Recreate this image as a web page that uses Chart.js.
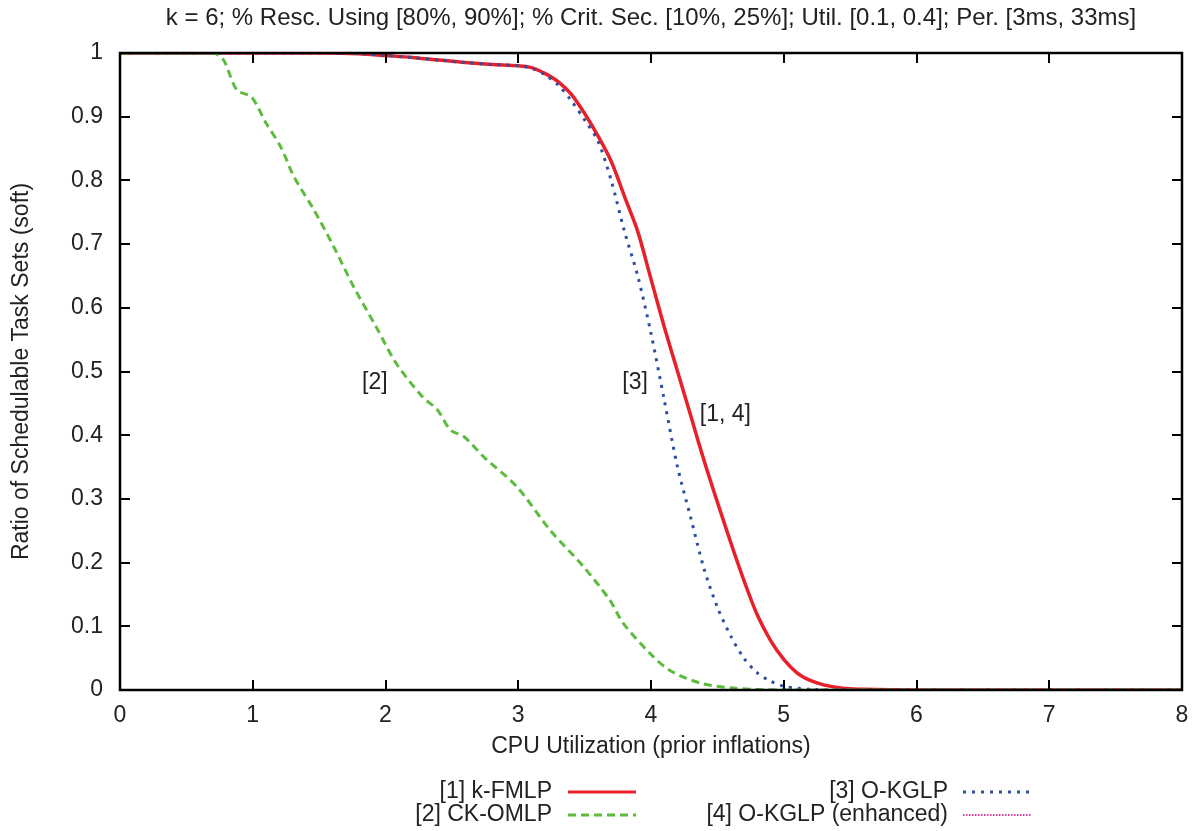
<!DOCTYPE html>
<html>
<head>
<meta charset="utf-8">
<script src="https://cdn.jsdelivr.net/npm/chart.js@4.4.1/dist/chart.umd.min.js"></script>
<style>
  html, body { margin: 0; padding: 0; background: #fff; }
  #wrap { width: 1196px; height: 831px; }
</style>
</head>
<body>
<div id="wrap"><canvas id="myChart" width="1196" height="831"></canvas></div>
<script>
// values
const fmlpX = [0, 1.5, 1.8, 2.0, 2.2, 2.4, 2.6, 2.8, 3.0, 3.1, 3.2, 3.3, 3.4, 3.5, 3.6, 3.7, 3.8, 3.9, 4.0, 4.1, 4.2, 4.3, 4.4, 4.5, 4.6, 4.7, 4.8, 4.9, 5.0, 5.1, 5.2, 5.3, 5.4, 5.5, 5.6, 6.0, 8.0];
const fmlpY = [1, 1, 0.999, 0.996, 0.993, 0.989, 0.985, 0.982, 0.98, 0.977, 0.968, 0.955, 0.935, 0.905, 0.87, 0.83, 0.775, 0.72, 0.645, 0.57, 0.5, 0.43, 0.36, 0.295, 0.232, 0.172, 0.118, 0.078, 0.048, 0.027, 0.015, 0.008, 0.004, 0.002, 0.001, 0, 0];

const omlpX = [0, 0.7, 0.78, 0.88, 0.99, 1.1, 1.21, 1.31, 1.46, 1.61, 1.76, 1.93, 2.08, 2.28, 2.39, 2.49, 2.59, 2.74, 2.99, 3.24, 3.49, 3.69, 3.79, 3.99, 4.14, 4.37, 4.62, 5.0, 8.0];
const omlpY = [1, 1, 0.989, 0.942, 0.931, 0.89, 0.853, 0.806, 0.754, 0.696, 0.633, 0.57, 0.513, 0.46, 0.44, 0.408, 0.398, 0.366, 0.319, 0.251, 0.194, 0.141, 0.105, 0.058, 0.031, 0.011, 0.003, 0, 0];

const kglpX = [0, 1.5, 1.8, 2.0, 2.2, 2.4, 2.6, 2.8, 3.0, 3.1, 3.2, 3.3, 3.4, 3.5, 3.6, 3.7, 3.8, 3.9, 4.0, 4.1, 4.2, 4.3, 4.4, 4.5, 4.6, 4.7, 4.8, 4.9, 5.0, 5.1, 5.2, 5.4, 8.0];
const kglpY = [1, 1, 0.999, 0.996, 0.993, 0.989, 0.985, 0.982, 0.98, 0.976, 0.966, 0.95, 0.925, 0.895, 0.862, 0.8, 0.72, 0.65, 0.56, 0.455, 0.35, 0.27, 0.19, 0.13, 0.085, 0.05, 0.027, 0.014, 0.006, 0.003, 0.001, 0, 0];

// [4] is drawn on top of [1]
const kglpEnhX = fmlpX;
const kglpEnhY = fmlpY;

const xTicks = [0, 1, 2, 3, 4, 5, 6, 7, 8];
const yTicks = [0, 0.1, 0.2, 0.3, 0.4, 0.5, 0.6, 0.7, 0.8, 0.9, 1];

const noteText = ['[2]', '[3]', '[1, 4]'];
const noteX = [1.92, 3.88, 4.56];
const noteY = [0.483, 0.483, 0.432];

const pts = (xs, ys) => xs.map((x, i) => ({ x: x, y: ys[i] }));

const FONT = '"Liberation Sans", Arial, Helvetica, sans-serif';
const FS = 23;
const TXT = '#222';

// frame, inward ticks, notes and legend, gnuplot style
const gnuplotBits = {
  id: 'gnuplotBits',
  afterDatasetsDraw(chart) {
    const c = chart.ctx;
    const a = chart.chartArea;
    const sx = chart.scales.x, sy = chart.scales.y;
    c.save();
    c.strokeStyle = '#000';
    c.lineWidth = 2.5;
    c.strokeRect(a.left, a.top, a.right - a.left, a.bottom - a.top);
    c.lineWidth = 2;
    c.beginPath();
    xTicks.forEach(v => {
      const px = Math.round(sx.getPixelForValue(v));
      c.moveTo(px, a.bottom); c.lineTo(px, a.bottom - 10);
      c.moveTo(px, a.top); c.lineTo(px, a.top + 10);
    });
    yTicks.forEach(v => {
      const py = Math.round(sy.getPixelForValue(v));
      c.moveTo(a.left, py); c.lineTo(a.left + 10, py);
      c.moveTo(a.right, py); c.lineTo(a.right - 10, py);
    });
    c.stroke();

    c.fillStyle = TXT;
    c.font = FS + 'px ' + FONT;
    c.textAlign = 'center';
    c.textBaseline = 'middle';
    noteText.forEach((t, i) => {
      c.fillText(t, sx.getPixelForValue(noteX[i]), sy.getPixelForValue(noteY[i]));
    });

    // legend
    const rows = [
      { label: '[1] k-FMLP', tx: 552, ty: 792, lx: 568, color: '#e8202a', dash: [], w: 3 },
      { label: '[2] CK-OMLP', tx: 552, ty: 815, lx: 568, color: '#5dbb3f', dash: [8, 5], w: 3 },
      { label: '[3] O-KGLP', tx: 948, ty: 792, lx: 963, color: '#2f4ea0', dash: [3, 6], w: 3 },
      { label: '[4] O-KGLP (enhanced)', tx: 948, ty: 815, lx: 963, color: '#d63c9a', dash: [1.5, 1.5], w: 2 }
    ];
    c.textAlign = 'right';
    rows.forEach(r => {
      c.fillStyle = TXT;
      c.fillText(r.label, r.tx, r.ty);
      c.strokeStyle = r.color;
      c.lineWidth = r.w;
      c.setLineDash(r.dash);
      c.beginPath();
      c.moveTo(r.lx, r.ty);
      c.lineTo(r.lx + 68, r.ty);
      c.stroke();
    });
    c.restore();
  }
};

const ctx = document.getElementById('myChart');

new Chart(ctx, {
  type: 'scatter',
  data: {
    datasets: [
      {
        label: '[2] CK-OMLP',
        data: pts(omlpX, omlpY),
        borderColor: '#5dbb3f',
        borderWidth: 3,
        borderDash: [8, 5]
      },
      {
        label: '[3] O-KGLP',
        data: pts(kglpX, kglpY),
        borderColor: '#2f4ea0',
        borderWidth: 3,
        borderDash: [3, 6]
      },
      {
        label: '[1] k-FMLP',
        data: pts(fmlpX, fmlpY),
        borderColor: '#e8202a',
        borderWidth: 3.5
      },
      {
        label: '[4] O-KGLP (enhanced)',
        data: pts(kglpEnhX, kglpEnhY),
        borderColor: '#d63c9a',
        borderWidth: 2,
        borderDash: [1.5, 1.5]
      }
    ]
  },
  options: {
    responsive: false,
    animation: false,
    showLine: true,
    elements: {
      point: { radius: 0, hoverRadius: 0 },
      line: { tension: 0.3, fill: false, borderCapStyle: 'butt' }
    },
    layout: { padding: { left: 0, right: 14, top: 0, bottom: 71 } },
    plugins: {
      legend: { display: false },
      tooltip: { enabled: false },
      title: {
        display: true,
        fullSize: false,
        text: 'k = 6; % Resc. Using [80%, 90%]; % Crit. Sec. [10%, 25%]; Util. [0.1, 0.4]; Per. [3ms, 33ms]',
        color: TXT,
        font: { family: FONT, size: 24, weight: 'normal', lineHeight: 1.2 },
        padding: { top: 4, bottom: 20.2 }
      }
    },
    scales: {
      x: {
        type: 'linear',
        min: 0,
        max: 8,
        afterFit(s) { s.height = 70; s.paddingLeft = 0; s.paddingRight = 0; },
        afterBuildTicks(s) { s.ticks = xTicks.map(v => ({ value: v })); },
        grid: { display: false, drawTicks: false },
        border: { display: false },
        ticks: { color: TXT, padding: 12, font: { family: FONT, size: FS }, maxRotation: 0 },
        title: {
          display: true,
          text: 'CPU Utilization (prior inflations)',
          color: TXT,
          font: { family: FONT, size: FS },
          padding: { top: 0, bottom: 0 }
        }
      },
      y: {
        type: 'linear',
        min: 0,
        max: 1,
        afterFit(s) { s.width = 120; },
        afterBuildTicks(s) { s.ticks = yTicks.map(v => ({ value: v })); },
        grid: { display: false, drawTicks: false },
        border: { display: false },
        ticks: {
          color: TXT,
          padding: 17,
          font: { family: FONT, size: FS },
          callback: v => String(Math.round(v * 10) / 10)
        },
        title: {
          display: true,
          text: 'Ratio of Schedulable Task Sets (soft)',
          color: TXT,
          font: { family: FONT, size: FS },
          padding: { top: 8, bottom: 0 }
        }
      }
    }
  },
  plugins: [gnuplotBits]
});
</script>
</body>
</html>
